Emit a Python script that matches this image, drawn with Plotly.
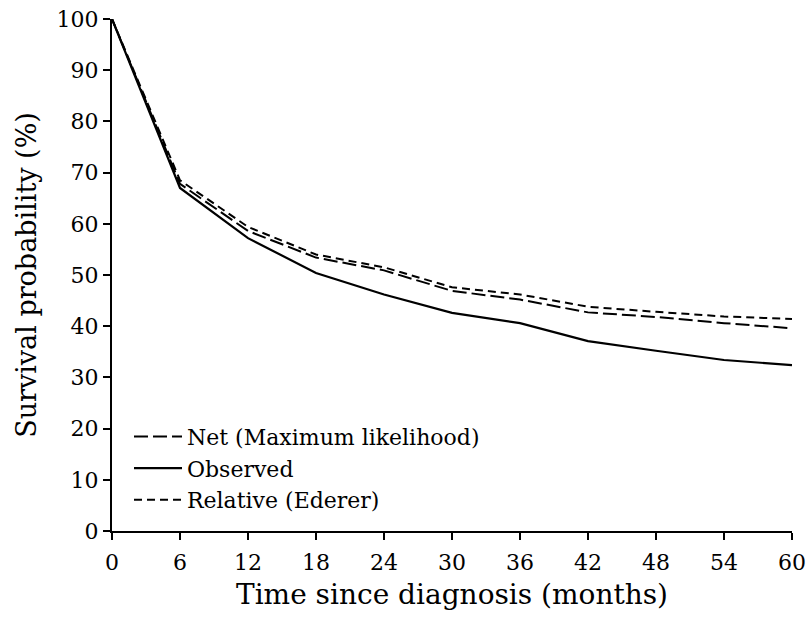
import plotly.graph_objects as go

months = [0, 6, 12, 18, 24, 30, 36, 42, 48, 54, 60]
net_ml = [100, 67.8, 58.6, 53.4, 50.9, 46.9, 45.2, 42.7, 41.8, 40.6, 39.6]
observed = [100, 67.0, 57.2, 50.4, 46.2, 42.6, 40.6, 37.1, 35.2, 33.4, 32.4]
relative = [100, 68.5, 59.4, 54.0, 51.5, 47.6, 46.2, 43.8, 42.8, 41.9, 41.4]

x_ticks = [0, 6, 12, 18, 24, 30, 36, 42, 48, 54, 60]
y_ticks = [0, 10, 20, 30, 40, 50, 60, 70, 80, 90, 100]

FONT = "DejaVu Serif"

fig = go.Figure()
fig.add_trace(go.Scatter(x=months, y=net_ml, mode="lines", name="Net (Maximum likelihood)",
                         line=dict(color="black", width=2, dash="14px,5px")))
fig.add_trace(go.Scatter(x=months, y=observed, mode="lines", name="Observed",
                         line=dict(color="black", width=2.2)))
fig.add_trace(go.Scatter(x=months, y=relative, mode="lines", name="Relative (Ederer)",
                         line=dict(color="black", width=2, dash="8px,5px")))

fig.update_layout(
    width=809, height=623,
    margin=dict(l=112, r=17, t=19, b=92),
    paper_bgcolor="white", plot_bgcolor="white",
    font=dict(family=FONT, size=22, color="black"),
    legend=dict(x=0.025, y=0.225, xanchor="left", yanchor="top",
                bgcolor="rgba(0,0,0,0)", font=dict(family=FONT, size=22),
                tracegroupgap=0, itemwidth=48),
    showlegend=True,
)
fig.update_xaxes(range=[0, 60], tickvals=x_ticks, ticktext=[str(v) for v in x_ticks],
                 showgrid=False, zeroline=False, showline=True, linecolor="black", linewidth=2,
                 ticks="outside", ticklen=7, tickwidth=1.5, tickcolor="black", automargin=False,
                 tickfont=dict(family=FONT, size=22), ticklabelstandoff=4,
                 title=dict(text="Time since diagnosis (months)", font=dict(family=FONT, size=28), standoff=10))
fig.update_yaxes(range=[0, 100], tickvals=y_ticks, ticktext=[str(v) for v in y_ticks],
                 showgrid=False, zeroline=False, showline=True, linecolor="black", linewidth=2,
                 ticks="outside", ticklen=7, tickwidth=1.5, tickcolor="black", automargin=False,
                 tickfont=dict(family=FONT, size=22),
                 title=dict(text="Survival probability (%)", font=dict(family=FONT, size=27), standoff=12))

fig.write_html("out.html")
